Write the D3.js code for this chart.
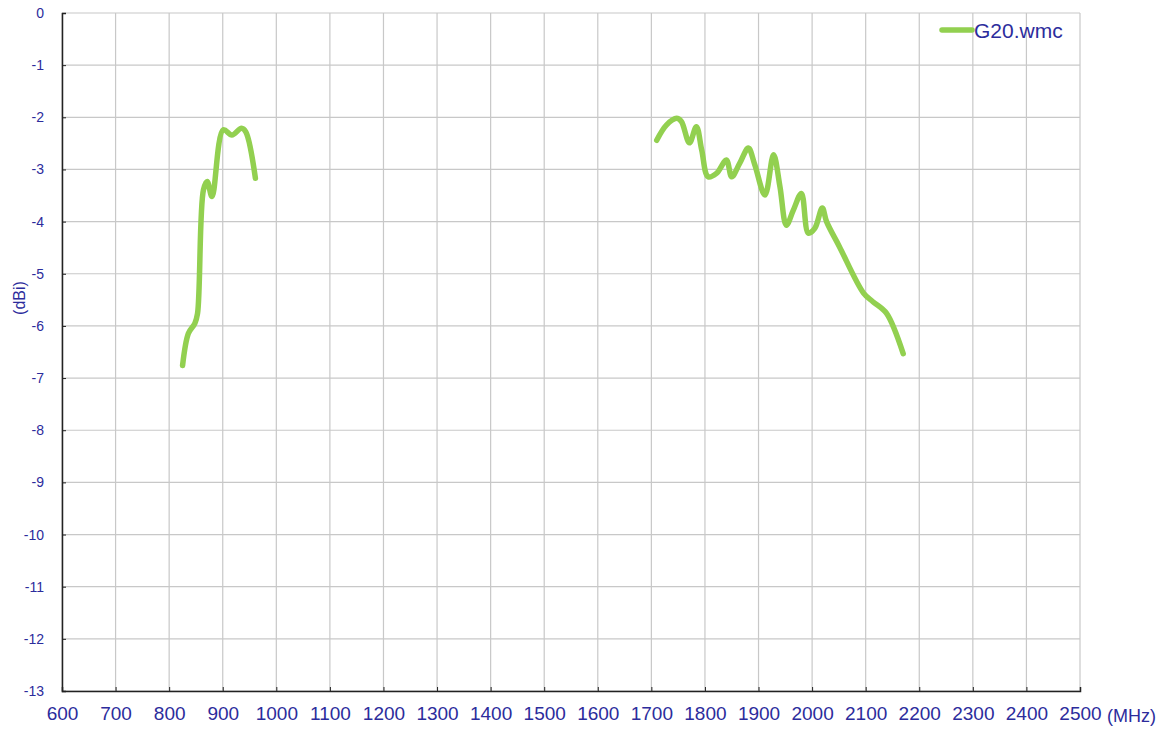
<!DOCTYPE html>
<html>
<head>
<meta charset="utf-8">
<script src="https://cdn.jsdelivr.net/npm/d3@7"></script>
<style>
  body { margin: 0; background: #fff; }
  text { font-family: Arial, "Liberation Sans", sans-serif; }
</style>
</head>
<body>
<div id="chart"></div>
<script>
// gain of G20.wmc, two bands
const lowBandFreq = [825, 836, 848, 853, 864, 871, 880, 901, 917, 935, 943, 961];
const lowBandGain = [-6.76, -6.14, -5.95, -5.76, -3.39, -3.23, -3.52, -2.24, -2.34, -2.21, -2.28, -3.17];

const highBandFreq = [1710, 1728, 1747, 1756, 1771, 1784, 1794, 1806, 1822, 1840, 1850, 1865, 1881, 1893, 1912, 1928, 1940, 1952, 1965, 1980, 1993, 2005, 2019, 2027, 2051, 2096, 2114, 2139, 2170];
const highBandGain = [-2.44, -2.15, -2.02, -2.08, -2.49, -2.18, -2.63, -3.14, -3.07, -2.82, -3.14, -2.88, -2.59, -2.91, -3.49, -2.72, -3.33, -4.07, -3.78, -3.46, -4.22, -4.13, -3.74, -4.0, -4.48, -5.37, -5.54, -5.76, -6.53];

const xTicks = d3.range(600, 2501, 100);
const yTicks = d3.range(0, -14, -1);
const seriesName = "G20.wmc";

const width = 1167, height = 731;
const margin = { top: 13, right: 87, bottom: 40, left: 62 };
const labelColor = "#2c2c9c";
const lineColor = "#92d050";

const svg = d3.select("#chart")
    .append("svg")
    .attr("width", width)
    .attr("height", height);

const x = d3.scaleLinear().domain([600, 2500]).range([margin.left, width - margin.right]);
const y = d3.scaleLinear().domain([-13, 0]).range([height - margin.bottom, margin.top]);

// grid
svg.append("g")
    .selectAll("line")
    .data(xTicks)
    .enter()
    .append("line")
    .attr("x1", d => x(d)).attr("x2", d => x(d))
    .attr("y1", y(0)).attr("y2", y(-13))
    .attr("stroke", "#c8c8c8").attr("stroke-width", 1.2);

svg.append("g")
    .selectAll("line")
    .data(yTicks)
    .enter()
    .append("line")
    .attr("x1", x(600)).attr("x2", x(2500))
    .attr("y1", d => y(d)).attr("y2", d => y(d))
    .attr("stroke", "#c8c8c8").attr("stroke-width", 1.2);

// axes (plain hyphen for negatives, like the original)
const plain = d => String(d);

const xAxis = svg.append("g")
    .attr("transform", `translate(0,${y(-13)})`)
    .call(d3.axisBottom(x).tickValues(xTicks).tickSize(-4).tickPadding(16).tickFormat(plain));
xAxis.select(".domain").attr("stroke", "#222").attr("stroke-width", 1.5);
xAxis.selectAll(".tick line").attr("stroke", "#222");
xAxis.selectAll("text").attr("fill", labelColor).attr("font-size", 19);

const yAxis = svg.append("g")
    .attr("transform", `translate(${x(600)},0)`)
    .call(d3.axisLeft(y).tickValues(yTicks).tickSize(-4).tickPadding(18).tickFormat(plain));
yAxis.select(".domain").attr("stroke", "#222").attr("stroke-width", 1.5);
yAxis.selectAll(".tick line").attr("stroke", "#222");
yAxis.selectAll("text").attr("fill", labelColor).attr("font-size", 14);

svg.append("text")
    .attr("x", 1107).attr("y", y(-13) + 31)
    .attr("fill", labelColor).attr("font-size", 18)
    .text("(MHz)");

svg.append("text")
    .attr("transform", "translate(25,298) rotate(-90)")
    .attr("text-anchor", "middle")
    .attr("fill", labelColor).attr("font-size", 16)
    .text("(dBi)");

// curves
const line = d3.line()
    .x(d => x(d[0]))
    .y(d => y(d[1]))
    .curve(d3.curveCatmullRom.alpha(0.5));

[[lowBandFreq, lowBandGain], [highBandFreq, highBandGain]].forEach(([f, g]) => {
    svg.append("path")
        .datum(d3.zip(f, g))
        .attr("d", line)
        .attr("fill", "none")
        .attr("stroke", lineColor)
        .attr("stroke-width", 5.5)
        .attr("stroke-linecap", "round")
        .attr("stroke-linejoin", "round");
});

// legend
const legend = svg.append("g").attr("transform", "translate(942,30)");
legend.append("line")
    .attr("x1", 0).attr("x2", 30)
    .attr("stroke", lineColor).attr("stroke-width", 5.5).attr("stroke-linecap", "round");
legend.append("text")
    .attr("x", 32).attr("y", 8)
    .attr("fill", labelColor).attr("font-size", 21)
    .text(seriesName);
</script>
</body>
</html>
